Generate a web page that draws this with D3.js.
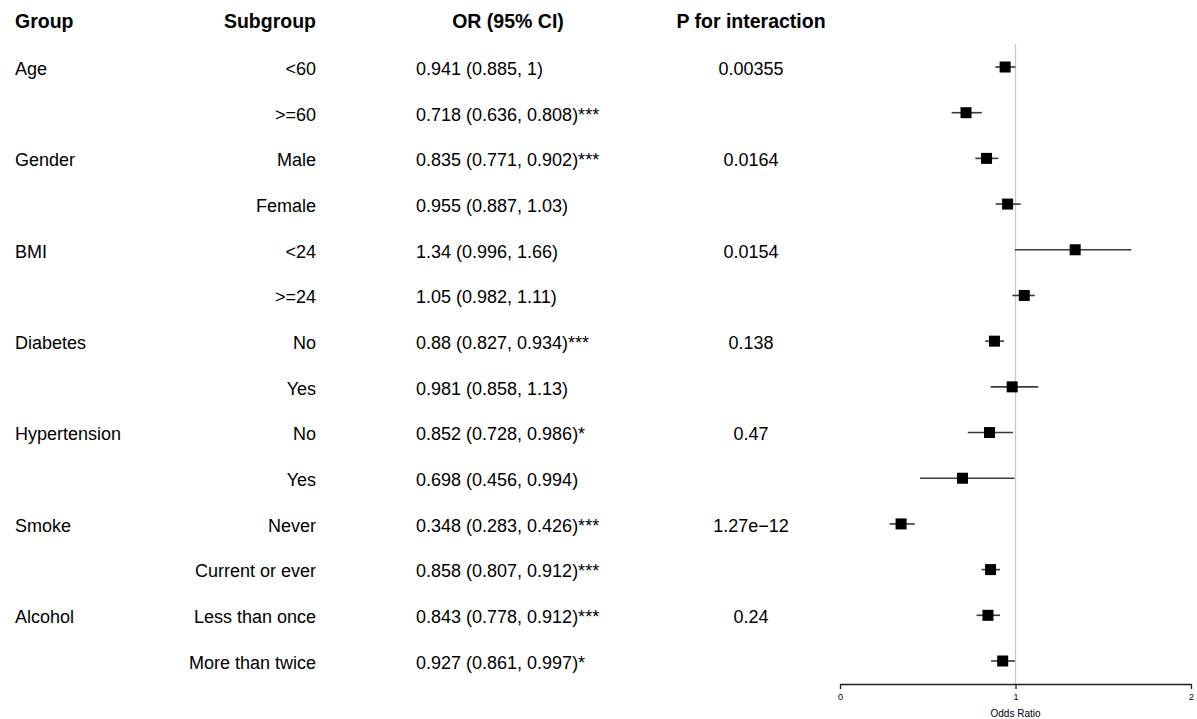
<!DOCTYPE html>
<html>
<head>
<meta charset="utf-8">
<script src="https://cdn.jsdelivr.net/npm/d3@7"></script>
<style>
  html, body { margin: 0; padding: 0; background: #fff; }
  svg { display: block; font-family: "Liberation Sans", Arial, Helvetica, sans-serif; }
</style>
</head>
<body>
<svg id="chart" width="1197" height="719"></svg>
<script>
// Subgroup analysis: odds ratios with 95% confidence intervals
const groups = ["Age", "", "Gender", "", "BMI", "", "Diabetes", "", "Hypertension", "", "Smoke", "", "Alcohol", ""];
const subgroups = ["<60", ">=60", "Male", "Female", "<24", ">=24", "No", "Yes", "No", "Yes", "Never", "Current or ever", "Less than once", "More than twice"];
const oddsRatio = [0.941, 0.718, 0.835, 0.955, 1.34, 1.05, 0.88, 0.981, 0.852, 0.698, 0.348, 0.858, 0.843, 0.927];
const ciLower = [0.885, 0.636, 0.771, 0.887, 0.996, 0.982, 0.827, 0.858, 0.728, 0.456, 0.283, 0.807, 0.778, 0.861];
const ciUpper = [1, 0.808, 0.902, 1.03, 1.66, 1.11, 0.934, 1.13, 0.986, 0.994, 0.426, 0.912, 0.912, 0.997];
const significance = ["", "***", "***", "", "", "", "***", "", "*", "", "***", "***", "***", "*"];
const pInteraction = ["0.00355", "", "0.0164", "", "0.0154", "", "0.138", "", "0.47", "", "1.27e\u221212", "", "0.24", ""];
const headers = ["Group", "Subgroup", "OR (95% CI)", "P for interaction"];
const axisTicks = [0, 1, 2];
const axisTitle = "Odds Ratio";

const rows = subgroups.map((s, i) => ({
  i, group: groups[i], subgroup: s,
  or: oddsRatio[i], lo: ciLower[i], hi: ciUpper[i],
  label: `${oddsRatio[i]} (${ciLower[i]}, ${ciUpper[i]})${significance[i]}`,
  p: pInteraction[i]
}));

const svg = d3.select("#chart");

const y = d3.scalePoint().domain(d3.range(rows.length)).range([67, 661]);
const x = d3.scaleLinear().domain([0, 2]).range([840, 1191]);

const bodySize = 18, headSize = 19.5;

// column headers
const hdr = svg.append("g").attr("font-weight", "bold").attr("font-size", headSize).attr("fill", "#000");
hdr.append("text").attr("x", 15).attr("y", 21).attr("dy", "0.35em").text(headers[0]);
hdr.append("text").attr("x", 316).attr("y", 21).attr("dy", "0.35em").attr("text-anchor", "end").text(headers[1]);
hdr.append("text").attr("x", 508).attr("y", 21).attr("dy", "0.35em").attr("text-anchor", "middle").text(headers[2]);
hdr.append("text").attr("x", 751).attr("y", 21).attr("dy", "0.35em").attr("text-anchor", "middle").text(headers[3]);

// table body
const body = svg.append("g").attr("font-size", bodySize).attr("fill", "#000");
const row = body.selectAll("g.row").data(rows).join("g").attr("class", "row")
  .attr("transform", d => `translate(0,${y(d.i) + 1.5})`);
row.append("text").attr("x", 15).attr("dy", "0.35em").text(d => d.group);
row.append("text").attr("x", 316).attr("dy", "0.35em").attr("text-anchor", "end").text(d => d.subgroup);
row.append("text").attr("x", 416).attr("dy", "0.35em").text(d => d.label);
row.append("text").attr("x", 751).attr("dy", "0.35em").attr("text-anchor", "middle").text(d => d.p);

// reference line at OR = 1
svg.append("line")
  .attr("x1", x(1)).attr("x2", x(1))
  .attr("y1", 44).attr("y2", 684)
  .attr("stroke", "#c8c8c8").attr("stroke-width", 1.3);

// confidence intervals and point estimates
const marks = svg.append("g");
marks.selectAll("line.ci").data(rows).join("line").attr("class", "ci")
  .attr("x1", d => x(d.lo)).attr("x2", d => x(d.hi))
  .attr("y1", d => y(d.i)).attr("y2", d => y(d.i))
  .attr("stroke", "#3a3a3a").attr("stroke-width", 1.6);
const sq = 11;
marks.selectAll("rect.pt").data(rows).join("rect").attr("class", "pt")
  .attr("x", d => x(d.or) - sq / 2).attr("y", d => y(d.i) - sq / 2)
  .attr("width", sq).attr("height", sq).attr("fill", "#000");

// x axis
const axis = svg.append("g").attr("transform", "translate(0,684)")
  .call(d3.axisBottom(x).tickValues(axisTicks).tickFormat(d3.format("d")).tickSize(5).tickSizeOuter(0));
axis.select(".domain").attr("stroke", "#222").attr("stroke-width", 1.3);
axis.selectAll(".tick line").attr("stroke", "#222").attr("stroke-width", 1.3);
axis.selectAll(".tick text").attr("font-size", 9).attr("font-family", "Liberation Sans, Arial, sans-serif").attr("fill", "#000").attr("dy", "0.9em");
svg.append("text").attr("x", x(1)).attr("y", 713).attr("dy", "0.35em")
  .attr("text-anchor", "middle").attr("font-size", 10).attr("fill", "#000").text(axisTitle);
</script>
</body>
</html>
